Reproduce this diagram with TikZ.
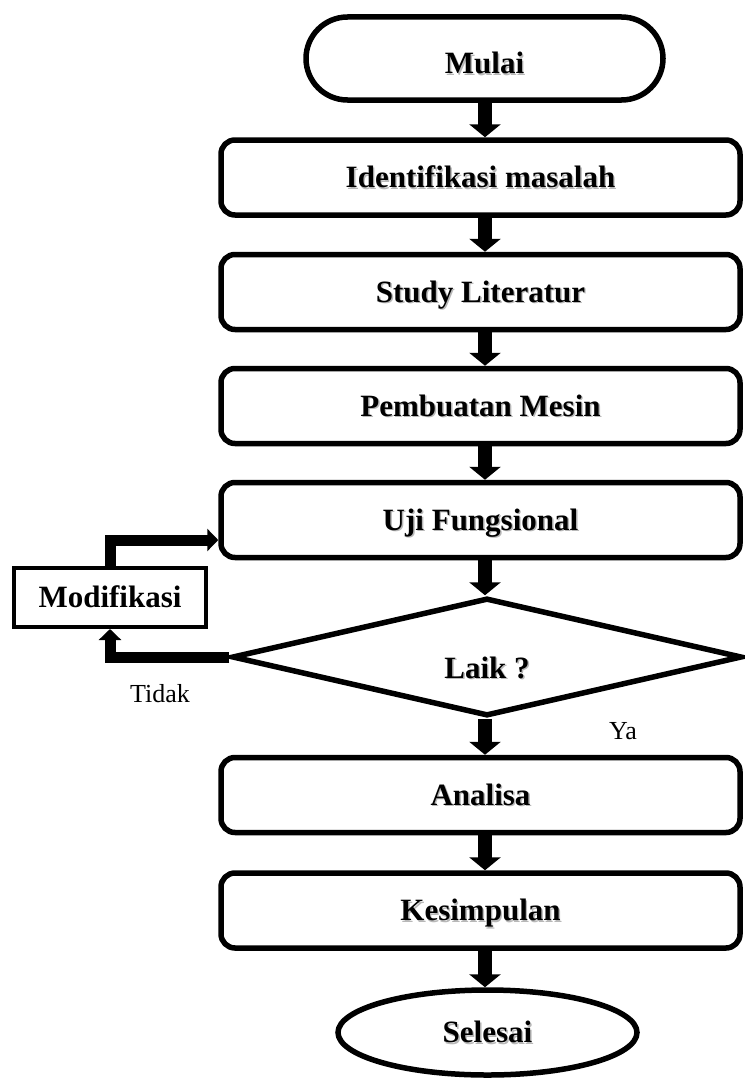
\documentclass[tikz,border=0pt]{standalone}
\usepackage{fontspec}
\setmainfont{Liberation Serif}
\usetikzlibrary{arrows.meta,shapes.geometric}
\newcommand\shd[1]{\rlap{\hspace{1.4pt}\raisebox{-1.4pt}{\textcolor{black!28}{#1}}}#1}
\begin{document}
\begin{tikzpicture}[x=1pt,y=-1pt,
  boldtxt/.style={font=\fontsize{31}{36}\selectfont\bfseries, text height=20.5pt, text depth=0pt, inner sep=0pt},
  boxstyle/.style={boldtxt, draw, line width=5.5pt, rounded corners=14pt, minimum width=519pt, minimum height=75pt},
  termstyle/.style={boldtxt, draw, line width=5.5pt, rounded corners=41.5pt, minimum width=357pt, minimum height=83pt},
  endstyle/.style={boldtxt, ellipse, draw, line width=5.5pt, minimum width=299pt, minimum height=85pt},
  decstyle/.style={boldtxt, diamond, draw, line width=5.5pt, minimum width=510pt, minimum height=118pt},
  modstyle/.style={boldtxt, draw, line width=4pt, minimum width=192pt, minimum height=59pt},
  lbl/.style={font=\fontsize{26}{30}\selectfont, inner sep=0pt},
  bigarr/.style={line width=14pt, -{Triangle[width=31pt,length=13pt]}},
  smallarr/.style={line width=11pt, -{Triangle[width=22pt,length=11pt]}}
]
\fill[white] (0,0) rectangle (744,1081);
\useasboundingbox (0,0) rectangle (744,1081);
\coordinate (col) at (485,0);

\node[termstyle] (mulai) at (484.5,58.5) {\raisebox{-5pt}{\shd{Mulai}}};
\node[boxstyle] (ident) at (480.5,177.5) {\shd{Identifikasi masalah}};
\node[boxstyle] (study) at (480.5,292) {\shd{Study Literatur}};
\node[boxstyle] (buat) at (480.5,406) {\shd{Pembuatan Mesin}};
\node[boxstyle] (uji) at (480.5,520) {\shd{Uji Fungsional}};
\node[decstyle] (laik) at (487,657) {\raisebox{-11pt}{\shd{Laik ?}}};
\node[modstyle] (mod) at (110,597.5) {Modifikasi};
\node[boxstyle] (anal) at (480.5,795) {\shd{Analisa}};
\node[boxstyle] (kes) at (480.5,910.5) {\shd{Kesimpulan}};
\node[endstyle] (sel) at (487.5,1032.5) {\shd{Selesai}};

\node[lbl] (tidak) at (160,694) {Tidak};
\node[lbl] (ya) at (623,731) {Ya};

\draw[bigarr] (mulai.south -| col) -- (ident.north -| col);
\draw[bigarr] (ident.south -| col) -- (study.north -| col);
\draw[bigarr] (study.south -| col) -- (buat.north -| col);
\draw[bigarr] (buat.south -| col) -- (uji.north -| col);
\draw[bigarr] (uji.south -| col) -- (laik.north -| col);
\draw[bigarr] (laik.south -| col) -- (anal.north -| col);
\draw[bigarr] (anal.south -| col) -- (kes.north -| col);
\draw[bigarr] (kes.south -| col) -- (sel.north -| col);

\draw[smallarr] (laik.west) -| (mod.south);
\draw[smallarr] (mod.north) |- ([yshift=-20pt]uji.west);
\end{tikzpicture}
\end{document}
